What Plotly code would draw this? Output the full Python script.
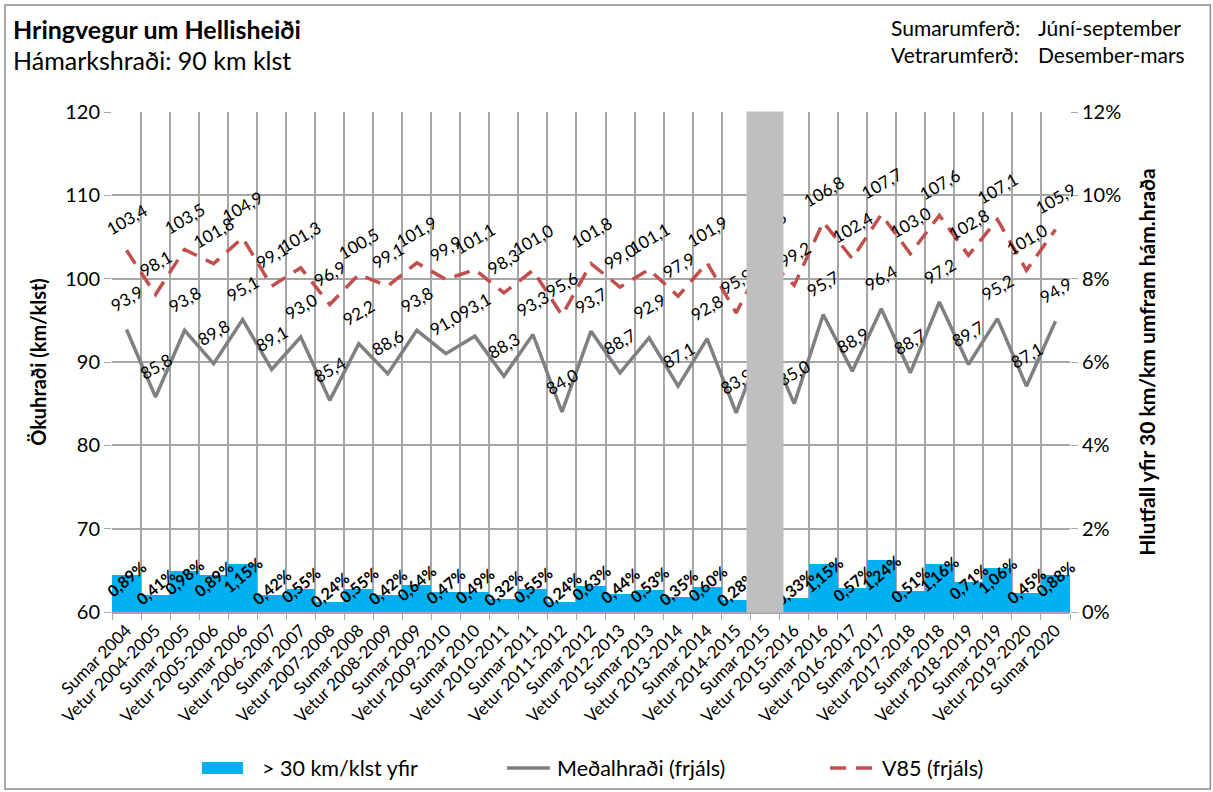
import plotly.graph_objects as go

categories = [
    "Sumar 2004", "Vetur 2004-2005", "Sumar 2005", "Vetur 2005-2006", "Sumar 2006",
    "Vetur 2006-2007", "Sumar 2007", "Vetur 2007-2008", "Sumar 2008", "Vetur 2008-2009",
    "Sumar 2009", "Vetur 2009-2010", "Sumar 2010", "Vetur 2010-2011", "Sumar 2011",
    "Vetur 2011-2012", "Sumar 2012", "Vetur 2012-2013", "Sumar 2013", "Vetur 2013-2014",
    "Sumar 2014", "Vetur 2014-2015", "Sumar 2015", "Vetur 2015-2016", "Sumar 2016",
    "Vetur 2016-2017", "Sumar 2017", "Vetur 2017-2018", "Sumar 2018", "Vetur 2018-2019",
    "Sumar 2019", "Vetur 2019-2020", "Sumar 2020",
]

# share of vehicles more than 30 km/klst over the limit (%)
over30 = [0.89, 0.41, 0.98, 0.89, 1.15, 0.42, 0.55, 0.24, 0.55, 0.42,
          0.64, 0.47, 0.49, 0.32, 0.55, 0.24, 0.63, 0.44, 0.53, 0.35,
          0.60, 0.28, None, 0.33, 1.15, 0.57, 1.24, 0.51, 1.16, 0.71,
          1.06, 0.45, 0.88]

# mean speed (free flow)
mean_speed = [93.9, 85.8, 93.8, 89.8, 95.1, 89.1, 93.0, 85.4, 92.2, 88.6,
              93.8, 91.0, 93.1, 88.3, 93.3, 84.0, 93.7, 88.7, 92.9, 87.1,
              92.8, 83.9, 93.0, 85.0, 95.7, 88.9, 96.4, 88.7, 97.2, 89.7,
              95.2, 87.1, 94.9]

# V85 (free flow)
v85 = [103.4, 98.1, 103.5, 101.8, 104.9, 99.1, 101.3, 96.9, 100.5, 99.1,
       101.9, 99.9, 101.1, 98.3, 101.0, 95.6, 101.8, 99.0, 101.1, 97.9,
       101.9, 95.9, 102.6, 99.2, 106.8, 102.4, 107.7, 103.0, 107.6, 102.8,
       107.1, 101.0, 105.9]

series_names = ["> 30 km/klst yfir", "Meðalhraði (frjáls)", "V85 (frjáls)"]

FONT = "Lato, 'Open Sans', sans-serif"
GRID = "#a6a6a6"
BLUE = "#00b0f0"
GREY = "#808080"
RED = "#c0504d"
DASH = "16px,10px"


def fmt(v, suffix=""):
    return f"{v:.2f}".replace(".", ",") + suffix if suffix else f"{v:.1f}".replace(".", ",")


fig = go.Figure()

fig.add_trace(go.Bar(
    x=categories, y=over30, name=series_names[0], yaxis="y2",
    marker=dict(color=BLUE, line=dict(width=0)),
))
fig.add_trace(go.Scatter(
    x=categories, y=mean_speed, name=series_names[1], mode="lines",
    line=dict(color=GREY, width=3.5),
))
fig.add_trace(go.Scatter(
    x=categories, y=v85, name=series_names[2], mode="lines",
    line=dict(color=RED, width=3.5, dash=DASH),
))

annotations = []
# data labels for the two lines
for series in (mean_speed, v85):
    for c, v in zip(categories, series):
        annotations.append(dict(
            x=c, y=v, xref="x", yref="y", text=fmt(v), showarrow=False,
            yshift=31, textangle=-30, font=dict(family=FONT, size=17, color="black"),
        ))
# data labels for the bars
for c, v in zip(categories, over30):
    if v is None:
        continue
    annotations.append(dict(
        x=c, y=0.45 + 0.4 * v, xref="x", yref="y2", text="<b>" + fmt(v, "%") + "</b>",
        showarrow=False, textangle=-40, font=dict(family=FONT, size=16, color="black"),
    ))

# grey block over the missing summer 2015 (drawn last so it hides labels too)
annotations.append(dict(
    x="Sumar 2015", xref="x", y=0.5, yref="paper", text=" ", showarrow=False,
    width=36, height=500, bgcolor="#bfbfbf", borderpad=0,
))

# titles and notes
annotations += [
    dict(x=-0.1054, y=1.166, xref="paper", yref="paper", xanchor="left", yanchor="middle",
         text="<b>Hringvegur um Hellisheiði</b>", showarrow=False,
         font=dict(family=FONT, size=25, color="black")),
    dict(x=-0.1054, y=1.104, xref="paper", yref="paper", xanchor="left", yanchor="middle",
         text="Hámarkshraði: 90 km klst", showarrow=False,
         font=dict(family=FONT, size=25, color="black")),
    dict(x=0.8110, y=1.142, xref="paper", yref="paper", xanchor="left", yanchor="middle",
         align="left", text="Sumarumferð:<br>Vetrarumferð:", showarrow=False,
         font=dict(family=FONT, size=21, color="black")),
    dict(x=0.9645, y=1.142, xref="paper", yref="paper", xanchor="left", yanchor="middle",
         align="left", text="Júní-september<br>Desember-mars", showarrow=False,
         font=dict(family=FONT, size=21, color="black")),
]

# legend drawn by hand (wide swatches like the original)
LEG_Y = -0.312
for name, tx in zip(series_names, (0.1545, 0.4624, 0.8017)):
    annotations.append(dict(
        x=tx, y=LEG_Y, xref="paper", yref="paper", xanchor="left", yanchor="middle",
        text=name, showarrow=False, font=dict(family=FONT, size=21.5, color="black"),
    ))

shapes = [
    # outer chart border
    dict(type="rect", xref="paper", yref="paper",
         x0=-0.1117, x1=1.1465, y0=-0.354, y1=1.214,
         line=dict(color="#8c8c8c", width=1.5), fillcolor="rgba(0,0,0,0)"),
    # legend symbols
    dict(type="rect", xref="paper", yref="paper", x0=0.0939, x1=0.1367,
         y0=LEG_Y - 0.012, y1=LEG_Y + 0.012, fillcolor=BLUE, line=dict(width=0)),
    dict(type="line", xref="paper", yref="paper", x0=0.4123, x1=0.4572,
         y0=LEG_Y, y1=LEG_Y, line=dict(color=GREY, width=3.5)),
    dict(type="line", xref="paper", yref="paper", x0=0.7495, x1=0.7933,
         y0=LEG_Y, y1=LEG_Y, line=dict(color=RED, width=3.5, dash=DASH)),
]

fig.update_layout(
    width=1213, height=792,
    margin=dict(l=112, r=143, t=112, b=180, autoexpand=False),
    paper_bgcolor="white", plot_bgcolor="white",
    font=dict(family=FONT, color="black"),
    bargap=0,
    showlegend=False,
    xaxis=dict(
        type="category", range=[-0.5, len(categories) - 0.5],
        tickson="boundaries", tickangle=-45, automargin=False,
        tickfont=dict(family=FONT, size=17),
        showgrid=True, gridcolor=GRID, gridwidth=1.5,
        showline=True, linecolor=GRID, linewidth=1.5,
        ticks="outside", ticklen=6, tickcolor=GRID,
    ),
    yaxis=dict(
        range=[60, 120], dtick=10, automargin=False,
        tickfont=dict(family=FONT, size=20),
        title=dict(text="<b>Ökuhraði (km/klst)</b>", font=dict(family=FONT, size=20), standoff=13),
        showgrid=True, gridcolor=GRID, gridwidth=1.5,
        showline=False, zeroline=False,
        ticks="outside", ticklen=7, tickcolor=GRID,
    ),
    yaxis2=dict(
        range=[0, 12], dtick=2, ticksuffix="%", overlaying="y", side="right", automargin=False,
        tickfont=dict(family=FONT, size=20),
        title=dict(text="<b>Hlutfall yfir 30 km/km umfram hám.hraða</b>",
                   font=dict(family=FONT, size=21), standoff=20),
        showgrid=False, zeroline=False, showline=False,
        ticks="outside", ticklen=7, tickcolor=GRID,
    ),
    annotations=annotations,
    shapes=shapes,
)

# the page's default body margin would shift the chart by 8px
fig.write_html("out.html", config={"displayModeBar": False},
               post_script="document.body.style.margin = '0px';")
